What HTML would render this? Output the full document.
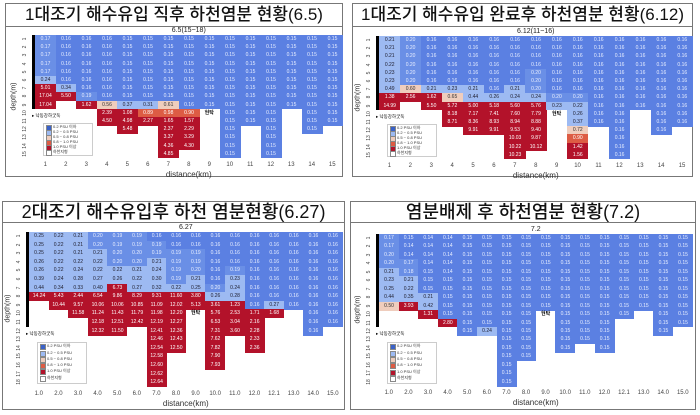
<!DOCTYPE html><html><head><meta charset="utf-8"><style>
body{margin:0;width:700px;height:415px;background:#fff;position:relative;overflow:hidden;font-family:"Liberation Sans","Noto Sans CJK KR",sans-serif}
.a{position:absolute}
.box{position:absolute;border:1px solid #777;box-sizing:border-box}
.t{position:absolute;left:0;right:0;top:0;border-bottom:1px solid #777;text-align:center;font-family:"Liberation Sans","Noto Sans CJK KR",sans-serif;color:#111;font-weight:500}
.c{position:absolute;font-size:5px;text-align:center;box-sizing:border-box}
.lab{position:absolute;font-size:6px;color:#444;text-align:center}
</style></head><body><div id="r"></div>
<script>
function col(v){if(v<=0.16)return['#5b80e2','#e8eeff'];if(v<=0.2)return['#6a8fe6','#e8eeff'];if(v<0.5)return['#9dbaf2','#223'];if(v<0.8)return['#efcdbd','#333'];if(v<1)return['#dd5c44','#fff'];return['#b3122a','#fff'];}
var P=[
{bx:5,by:3,bw:338,bh:174,th:22,fs:17,title:'1대조기 해수유입 직후 하천염분 현황(6.5)',sub:'6.5(15~18)',gx:35,gy:35,cw:20.5,rh:8.2,xl:'1 2 3 4 5 6 7 8 9 10 11 12 13 14 15',
rows:['0.17 0.16 0.16 0.16 0.15 0.15 0.15 0.15 0.15 0.15 0.15 0.15 0.15 0.15 0.15','0.17 0.16 0.16 0.16 0.15 0.15 0.15 0.15 0.15 0.15 0.15 0.15 0.15 0.15 0.15','0.17 0.16 0.16 0.16 0.15 0.15 0.15 0.15 0.15 0.15 0.15 0.15 0.15 0.15 0.15','0.17 0.16 0.16 0.16 0.15 0.15 0.15 0.15 0.15 0.15 0.15 0.15 0.15 0.15 0.15','0.17 0.16 0.16 0.16 0.15 0.15 0.15 0.15 0.15 0.15 0.15 0.15 0.15 0.15 0.15','0.24 0.16 0.16 0.16 0.15 0.15 0.15 0.15 0.15 0.15 0.15 0.15 0.15 0.15 0.15','5.01 0.34 0.16 0.16 0.15 0.15 0.15 0.15 0.15 0.15 0.15 0.15 0.15 0.15 0.15','17.04 5.50 0.19 0.16 0.15 0.15 0.15 0.15 0.15 0.15 0.15 0.15 0.15 0.15 0.15','17.04 _ 1.62 0.56 0.37 0.31 0.61 0.16 0.15 0.15 0.15 0.15 0.15 0.15 0.15','_ _ _ 2.39 1.08 0.89 0.98 0.90 H 0.15 0.15 0.15 _ 0.15 0.15','_ _ _ 4.50 4.98 2.27 1.65 1.57 _ 0.15 0.15 0.15 _ 0.15 0.15','_ _ _ _ 5.48 _ 2.37 2.29 _ 0.15 _ 0.15 _ 0.15 _','_ _ _ _ _ _ 3.37 3.29 _ 0.15 _ 0.15 _ _ _','_ _ _ _ _ _ 4.36 4.30 _ 0.15 _ 0.15 _ _ _','_ _ _ _ _ _ 4.85 _ _ 0.15 _ 0.15 _ _ _']},
{bx:352,by:3,bw:341,bh:174,th:22,fs:17,title:'1대조기 해수유입 완료후 하천염분 현황(6.12)',sub:'6.12(11~16)',gx:379,gy:36,cw:20.9,rh:8.2,xl:'1 2 3 4 5 6 7 8 9 10 11 12 13 14 15',
rows:['0.21 0.20 0.16 0.16 0.16 0.16 0.16 0.16 0.16 0.16 0.16 0.16 0.16 0.16 0.16','0.21 0.20 0.16 0.16 0.16 0.16 0.16 0.16 0.16 0.16 0.16 0.16 0.16 0.16 0.16','0.21 0.20 0.16 0.16 0.16 0.16 0.16 0.16 0.16 0.16 0.16 0.16 0.16 0.16 0.16','0.22 0.20 0.16 0.16 0.16 0.16 0.16 0.16 0.16 0.16 0.16 0.16 0.16 0.16 0.16','0.23 0.20 0.16 0.16 0.16 0.16 0.16 0.20 0.16 0.16 0.16 0.16 0.16 0.16 0.16','0.23 0.20 0.16 0.16 0.16 0.16 0.16 0.20 0.16 0.16 0.16 0.16 0.16 0.16 0.16','0.49 0.60 0.21 0.23 0.21 0.16 0.21 0.20 0.16 0.16 0.16 0.16 0.16 0.16 0.16','1.38 2.56 1.62 0.65 0.44 0.26 0.24 0.24 0.20 0.20 0.16 0.16 0.16 0.16 0.16','14.99 _ 5.50 5.72 5.00 5.18 5.60 5.76 0.23 0.22 0.16 0.16 0.16 0.16 0.16','_ _ _ 8.18 7.17 7.41 7.60 7.79 H 0.26 0.16 0.16 _ 0.16 0.16','_ _ _ 8.71 8.36 8.93 8.94 8.88 _ 0.37 0.16 0.16 _ 0.16 0.16','_ _ _ _ 9.91 9.91 9.53 9.40 _ 0.72 _ 0.16 _ 0.16 _','_ _ _ _ _ _ 10.03 9.87 _ 0.90 _ 0.16 _ _ _','_ _ _ _ _ _ 10.22 10.12 _ 1.42 _ 0.16 _ _ _','_ _ _ _ _ _ 10.23 _ _ 1.56 _ 0.16 _ _ _']},
{bx:2,by:201,bw:343,bh:209,th:20,fs:18,title:'2대조기 해수유입후 하천 염분현황(6.27)',sub:'6.27',gx:29,gy:232,cw:19.6,rh:8.6,xl:'1.0 2.0 3.0 4.0 5.0 6.0 7.0 8.0 9.0 10.0 11.0 12.0 12.1 13.0 14.0 15.0',
rows:['0.25 0.22 0.21 0.20 0.19 0.19 0.16 0.16 0.16 0.16 0.16 0.16 0.16 0.16 0.16 0.16','0.25 0.22 0.21 0.20 0.19 0.19 0.19 0.16 0.16 0.16 0.16 0.16 0.16 0.16 0.16 0.16','0.25 0.22 0.21 0.21 0.20 0.20 0.19 0.19 0.19 0.16 0.16 0.16 0.16 0.16 0.16 0.16','0.26 0.22 0.22 0.22 0.20 0.20 0.21 0.19 0.19 0.16 0.16 0.16 0.16 0.16 0.16 0.16','0.26 0.22 0.24 0.22 0.22 0.21 0.24 0.19 0.20 0.16 0.19 0.16 0.16 0.16 0.16 0.16','0.39 0.24 0.28 0.27 0.26 0.22 0.30 0.19 0.21 0.16 0.23 0.16 0.16 0.16 0.16 0.16','0.44 0.34 0.33 0.40 6.73 0.27 0.32 0.22 0.25 0.20 0.24 0.16 0.16 0.16 0.16 0.16','14.24 5.43 2.44 6.54 9.86 8.29 9.31 11.60 3.80 0.26 0.28 0.16 0.16 0.16 0.16 0.16','_ 10.44 9.57 10.06 10.06 10.85 11.09 12.02 5.13 3.61 1.23 0.16 0.27 0.16 0.16 0.16','_ _ 11.58 11.24 11.43 11.79 11.98 12.20 H 5.76 2.53 1.71 1.68 _ 0.16 0.16','_ _ _ 12.18 12.51 12.42 12.19 12.27 _ 6.53 3.04 2.16 _ _ 0.16 0.16','_ _ _ 12.32 11.50 _ 12.41 12.36 _ 7.31 3.60 2.28 _ _ 0.16 _','_ _ _ _ _ _ 12.46 12.43 _ 7.62 _ 2.33 _ _ _ _','_ _ _ _ _ _ 12.54 12.50 _ 7.82 _ 2.36 _ _ _ _','_ _ _ _ _ _ 12.58 _ _ 7.90 _ _ _ _ _ _','_ _ _ _ _ _ 12.60 _ _ 7.93 _ _ _ _ _ _','_ _ _ _ _ _ 12.62 _ _ _ _ _ _ _ _ _','_ _ _ _ _ _ 12.64 _ _ _ _ _ _ _ _ _']},
{bx:350,by:201,bw:346,bh:209,th:20,fs:18,title:'염분배제 후 하천염분 현황(7.2)',sub:'7.2',gx:379,gy:234,cw:19.6,rh:8.45,xl:'1.0 2.0 3.0 4.0 5.0 6.0 7.0 8.0 9.0 10.0 11.0 12.0 12.1 13.0 14.0 15.0',
rows:['0.17 0.15 0.14 0.14 0.15 0.15 0.15 0.15 0.15 0.15 0.15 0.15 0.15 0.15 0.15 0.15','0.17 0.14 0.14 0.14 0.15 0.15 0.15 0.15 0.15 0.15 0.15 0.15 0.15 0.15 0.15 0.15','0.20 0.14 0.14 0.14 0.15 0.15 0.15 0.15 0.15 0.15 0.15 0.15 0.15 0.15 0.15 0.15','0.20 0.17 0.14 0.14 0.15 0.15 0.15 0.15 0.15 0.15 0.15 0.15 0.15 0.15 0.15 0.15','0.21 0.18 0.15 0.14 0.15 0.15 0.15 0.15 0.15 0.15 0.15 0.15 0.15 0.15 0.15 0.15','0.23 0.21 0.15 0.15 0.15 0.15 0.15 0.15 0.15 0.15 0.15 0.15 0.15 0.15 0.15 0.15','0.25 0.22 0.15 0.15 0.15 0.15 0.15 0.15 0.15 0.15 0.15 0.15 0.15 0.15 0.15 0.15','0.44 0.35 0.21 0.15 0.15 0.15 0.15 0.15 0.15 0.15 0.15 0.15 0.15 0.15 0.15 0.15','0.50 3.93 0.42 0.15 0.15 0.15 0.15 0.15 0.15 0.15 0.15 0.15 0.15 0.15 0.15 0.15','_ _ 1.31 0.15 0.15 0.15 0.15 0.15 H 0.15 0.15 0.15 0.15 _ 0.15 0.15','_ _ _ 2.80 0.15 0.15 0.15 0.15 _ 0.15 0.15 0.15 _ _ 0.15 0.15','_ _ _ _ 0.15 0.24 0.15 0.15 _ 0.15 0.15 0.15 _ _ 0.15 _','_ _ _ _ _ _ 0.15 0.15 _ 0.15 0.15 0.15 _ _ _ _','_ _ _ _ _ _ 0.15 0.15 _ 0.15 _ 0.15 _ _ _ _','_ _ _ _ _ _ 0.15 0.15 _ _ _ _ _ _ _ _','_ _ _ _ _ _ 0.15 _ _ _ _ _ _ _ _ _','_ _ _ _ _ _ 0.15 _ _ _ _ _ _ _ _ _','_ _ _ _ _ _ 0.15 _ _ _ _ _ _ _ _ _']}];
var h='';
P.forEach(function(p){
h+='<div class="box" style="left:'+p.bx+'px;top:'+p.by+'px;width:'+p.bw+'px;height:'+p.bh+'px"><div class="t" style="height:'+p.th+'px;line-height:'+p.th+'px;font-size:'+p.fs+'px">'+p.title+'</div></div>';
var n=p.rows.length,nc=p.xl.split(' ').length;
h+='<div class="lab" style="left:'+p.gx+'px;width:'+(nc*p.cw)+'px;top:'+(p.gy-8)+'px;font-size:7px;color:#222">'+p.sub+'</div>';
p.rows.forEach(function(r,i){r.split(' ').forEach(function(v,j){
var x=p.gx+j*p.cw,y=p.gy+i*p.rh;
if(v=='_')return;
if(v=='H'){h+='<div class="c" style="left:'+x+'px;top:'+y+'px;width:'+p.cw+'px;height:'+p.rh+'px;line-height:'+p.rh+'px;color:#000;font-weight:bold">현탁</div>';return;}
var c=col(parseFloat(v));
h+='<div class="c" style="left:'+x+'px;top:'+y+'px;width:'+(p.cw+0.5)+'px;height:'+(p.rh+0.5)+'px;line-height:'+p.rh+'px;background:'+c[0]+';color:'+c[1]+'">'+v+'</div>';});
h+='<div class="lab" style="left:'+(p.gx-14)+'px;top:'+(p.gy+i*p.rh+1)+'px;width:8px;font-size:5px;transform:rotate(-90deg)">'+(i+1)+'</div>';});
p.xl.split(' ').forEach(function(l,j){h+='<div class="lab" style="left:'+(p.gx+j*p.cw)+'px;width:'+p.cw+'px;top:'+(p.gy+n*p.rh+4)+'px">'+l+'</div>';});
h+='<div class="lab" style="left:'+p.gx+'px;width:'+(nc*p.cw)+'px;top:'+(p.gy+n*p.rh+12)+'px;font-size:8px;color:#333">distance(km)</div>';
h+='<div class="lab" style="left:'+(p.gx-36)+'px;top:'+(p.gy+n*p.rh/2-4)+'px;width:30px;font-size:7px;color:#333;transform:rotate(-90deg)">depth(m)</div>';
h+='<div class="a" style="left:'+(p.gx-3)+'px;top:'+p.gy+'px;width:3px;height:'+(n>15?11*p.rh:9*p.rh)+'px;background:#000"></div>';
var ly=p.gy+(n>15?12:10)*p.rh;
h+='<div class="a" style="left:'+(p.gx-3)+'px;top:'+(ly-4)+'px;font-size:4.5px;color:#000">▸ 낙동강하굿둑</div>';
var lx=p.gx+8,lt=ly+(n>15?7:6);
h+='<div class="a" style="left:'+lx+'px;top:'+lt+'px;width:48px;height:'+(n>15?40:31)+'px;background:#fff;border:1px solid #ccc"></div>';
var sp=n>15?6.3:4.9;
[['#3a62c8','0.2 PSU 이하'],['#9dbaf2','0.2 ~ 0.5 PSU'],['#efcdbd','0.5 ~ 0.8 PSU'],['#dd5c44','0.8 ~ 1.0 PSU'],['#b3122a','1.0 PSU 이상'],['#fff','하천지형']].forEach(function(e,k){
h+='<div class="a" style="left:'+(lx+3)+'px;top:'+(lt+2+k*sp)+'px;width:4px;height:4px;background:'+e[0]+';border:0.5px solid #888"></div><div class="a" style="left:'+(lx+10)+'px;top:'+(lt+1+k*sp)+'px;font-size:4px;line-height:5px;color:#333;white-space:nowrap">'+e[1]+'</div>';});
});
document.getElementById('r').innerHTML=h;
</script></body></html>
